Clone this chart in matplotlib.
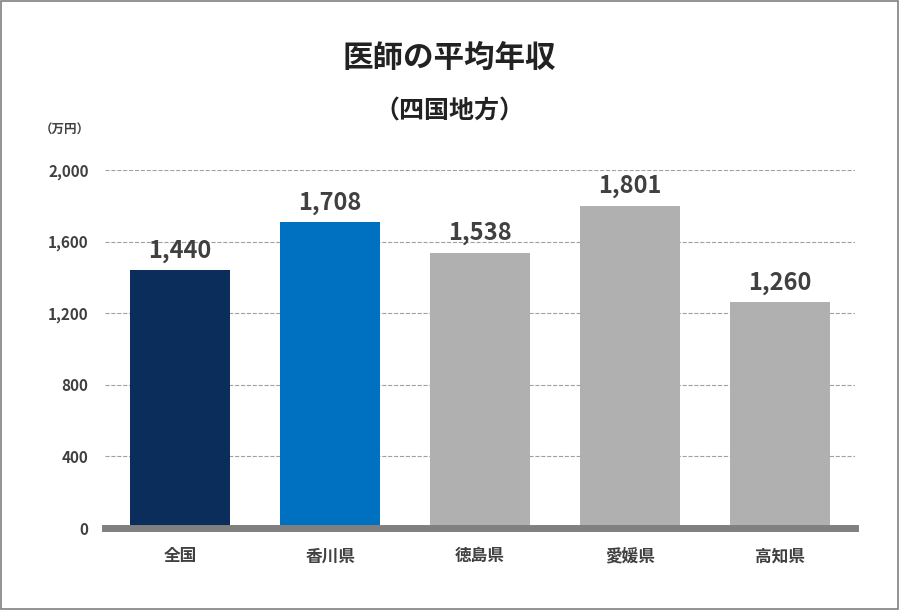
import matplotlib
matplotlib.use("Agg")
import matplotlib.pyplot as plt
from matplotlib.patches import Rectangle

plt.rcParams["font.family"] = "Noto Sans CJK JP"

categories = ["全国", "香川県", "徳島県", "愛媛県", "高知県"]
values = [1440, 1708, 1538, 1801, 1260]
colors = ["#0b2d5b", "#0070c0", "#b0b0b0", "#b0b0b0", "#b0b0b0"]
yticks = [0, 400, 800, 1200, 1600, 2000]

fig = plt.figure(figsize=(8.99, 6.10), dpi=100)
fig.patches.append(Rectangle((0.001, 0.001), 0.998, 0.997, transform=fig.transFigure,
                             fill=False, edgecolor="#808080", linewidth=1.2))
ax = fig.add_axes([0.117, 0.1344, 0.834, 0.587])
x = range(len(categories))
ax.bar(x, values, width=0.667, color=colors, zorder=3)
for i, v in zip(x, values):
    ax.text(i, v + 40, f"{v:,}", ha="center", va="bottom", fontsize=17,
            fontweight="bold", color="#404040")
ax.set_xlim(-0.5, 4.5)
ax.set_ylim(0, 2000)
ax.set_yticks(yticks)
ax.set_yticklabels([f"{t:,}" for t in yticks], fontsize=11, fontweight="bold", color="#404040")
ax.set_xticks(list(x))
ax.set_xticklabels(categories, fontsize=12, fontweight="bold", color="#404040")
ax.tick_params(length=0, pad=12)
ax.tick_params(axis="x", pad=14)
ax.grid(axis="y", linestyle="--", color="#a0a0a0", linewidth=0.8, zorder=0)
for s in ["top", "right", "left"]:
    ax.spines[s].set_visible(False)
ax.spines["bottom"].set_color("#808080")
ax.spines["bottom"].set_linewidth(5)
ax.spines["bottom"].set_zorder(4)

fig.text(0.5, 0.905, "医師の平均年収", ha="center", va="center", fontsize=22,
         fontweight="bold", color="#222222")
fig.text(0.5, 0.818, "（四国地方）", ha="center", va="center", fontsize=18,
         fontweight="bold", color="#222222")
fig.text(0.072, 0.787, "（万円）", ha="center", va="center", fontsize=9,
         fontweight="bold", color="#404040")
fig.savefig("out.png", dpi=100)
